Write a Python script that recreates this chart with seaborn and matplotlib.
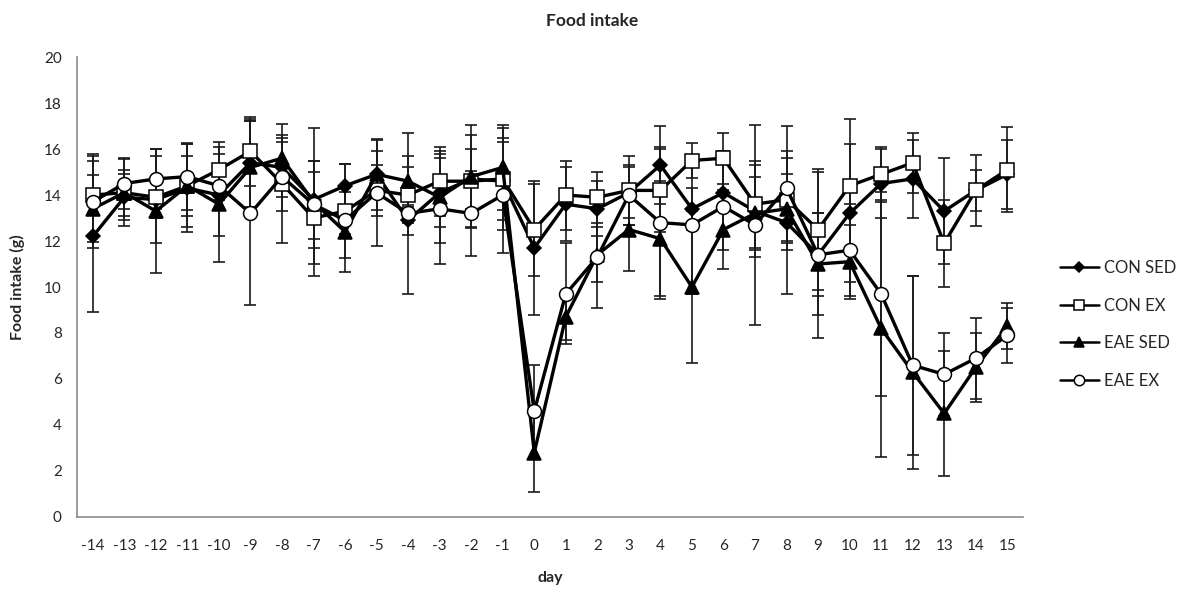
import matplotlib
matplotlib.use("Agg")
import matplotlib.pyplot as plt
import numpy as np
import pandas as pd
import seaborn as sns

# Days relative to disease induction
days = list(range(-14, 16))

# Mean daily food intake (g) per group
con_sed = [12.2, 13.9, 13.8, 14.3, 14.0, 15.4, 15.2, 13.8, 14.4, 14.9, 12.9, 14.1, 14.7, 14.6, 11.7,
           13.6, 13.4, 14.1, 15.3, 13.4, 14.1, 13.3, 12.8, 11.4, 13.2, 14.5, 14.7, 13.3, 14.2, 14.9]
con_ex = [14.0, 14.1, 13.9, 14.4, 15.1, 15.9, 14.5, 13.0, 13.3, 14.2, 14.0, 14.6, 14.6, 14.7, 12.5,
          14.0, 13.9, 14.2, 14.2, 15.5, 15.6, 13.6, 13.8, 12.5, 14.4, 14.9, 15.4, 11.9, 14.2, 15.1]
eae_sed = [13.4, 14.1, 13.3, 14.4, 13.6, 15.2, 15.6, 13.7, 12.4, 14.9, 14.6, 13.9, 14.8, 15.2, 2.8,
           8.7, 11.4, 12.5, 12.1, 10.0, 12.5, 13.2, 13.4, 11.0, 11.1, 8.2, 6.3, 4.5, 6.5, 8.3]
eae_ex = [13.7, 14.5, 14.7, 14.8, 14.4, 13.2, 14.8, 13.6, 12.9, 14.1, 13.2, 13.4, 13.2, 14.0, 4.6,
          9.7, 11.3, 14.0, 12.8, 12.7, 13.5, 12.7, 14.3, 11.4, 11.6, 9.7, 6.6, 6.2, 6.9, 7.9]

# Standard deviations per group
con_sed_sd = [3.3, 1.0, 1.9, 1.9, 1.8, 1.9, 1.3, 1.7, 0.95, 1.55, 0.65, 1.5, 1.3, 1.7, 2.9,
              1.6, 1.2, 1.1, 1.7, 0.9, 1.8, 2.0, 3.1, 3.6, 3.0, 1.5, 1.7, 2.3, 0.9, 1.5]
con_ex_sd = [1.8, 1.45, 0.9, 1.3, 1.2, 1.5, 2.6, 2.0, 2.05, 1.1, 1.2, 1.5, 2.0, 2.2, 2.0,
             1.5, 1.1, 1.5, 1.8, 0.75, 1.1, 1.9, 1.8, 2.65, 2.9, 1.2, 1.3, 1.9, 1.55, 1.85]
eae_sed_sd = [1.45, 1.0, 2.7, 1.8, 2.5, 2.0, 1.0, 3.2, 1.75, 1.0, 1.1, 2.0, 2.25, 1.85, 1.7,
              1.0, 1.2, 1.8, 2.5, 3.3, 1.7, 1.6, 1.5, 2.2, 1.6, 5.6, 4.2, 2.7, 1.5, 1.0]
eae_ex_sd = [2.0, 1.1, 1.3, 1.45, 0.6, 4.0, 1.5, 1.9, 0.6, 2.3, 3.5, 2.4, 1.85, 2.5, 2.0,
             2.2, 2.2, 1.3, 3.3, 3.0, 1.9, 4.35, 2.7, 1.8, 2.0, 4.45, 3.9, 1.8, 1.75, 1.2]

groups = ["CON SED", "CON EX", "EAE SED", "EAE EX"]
means = [con_sed, con_ex, eae_sed, eae_ex]
sds = [con_sed_sd, con_ex_sd, eae_sed_sd, eae_ex_sd]

df = pd.concat(
    [pd.DataFrame({"day": days, "intake": m, "sd": s, "group": g})
     for g, m, s in zip(groups, means, sds)],
    ignore_index=True,
)

styles = {
    "CON SED": dict(marker="D", ms=7.0, mfc="black"),
    "CON EX": dict(marker="s", ms=10.0, mfc="white"),
    "EAE SED": dict(marker="^", ms=9.5, mfc="black"),
    "EAE EX": dict(marker="o", ms=10.0, mfc="white"),
}

sns.set_style("white")
plt.rcParams["font.family"] = ["Lato", "DejaVu Sans"]

fig = plt.figure(figsize=(11.85, 5.92), dpi=100)
ax = fig.add_axes([0.065, 0.1267, 0.7983, 0.777])

# Error bars underneath the lines
for g in groups:
    sub = df[df["group"] == g]
    ax.errorbar(sub["day"], sub["intake"], yerr=sub["sd"], fmt="none",
                ecolor="#1a1a1a", elinewidth=1.2, capsize=4, capthick=1.2, zorder=2)

for g in groups:
    sub = df[df["group"] == g]
    st = styles[g]
    sns.lineplot(data=sub, x="day", y="intake", ax=ax, color="black", lw=2.4,
                 marker=st["marker"], markersize=st["ms"], markerfacecolor=st["mfc"],
                 markeredgecolor="black", markeredgewidth=1.1, label=g, zorder=3,
                 errorbar=None)

ax.set_xlim(-14.5, 15.5)
ax.set_ylim(0, 20)
ax.set_xticks(days)
ax.set_xticklabels([str(d) for d in days], fontsize=11)
ax.set_yticks(np.arange(0, 21, 2))
ax.set_yticklabels([str(v) for v in range(0, 21, 2)], fontsize=11)
ax.tick_params(axis="y", which="major", direction="out", length=5, width=1, color="#888888", pad=6)
ax.tick_params(axis="x", which="major", length=0, pad=16)

for side in ["top", "right"]:
    ax.spines[side].set_visible(False)
for side in ["left", "bottom"]:
    ax.spines[side].set_color("#8c8c8c")
    ax.spines[side].set_linewidth(1.2)

ax.set_xlabel("day", fontsize=11.5, fontweight="bold", labelpad=13)
ax.set_ylabel("Food intake (g)", fontsize=11.5, fontweight="bold", labelpad=14)
fig.suptitle("Food intake", fontsize=12.5, fontweight="bold", y=0.978)

leg = ax.legend(loc="center left", bbox_to_anchor=(0.882, 0.452), bbox_transform=fig.transFigure,
                frameon=False, fontsize=12, handlelength=2.3, handletextpad=0.3,
                labelspacing=1.3)
for h in leg.legend_handles:
    h.set_markersize(h.get_markersize() * 0.75)
    h.set_linewidth(1.8)

fig.savefig("out.png", dpi=100)
